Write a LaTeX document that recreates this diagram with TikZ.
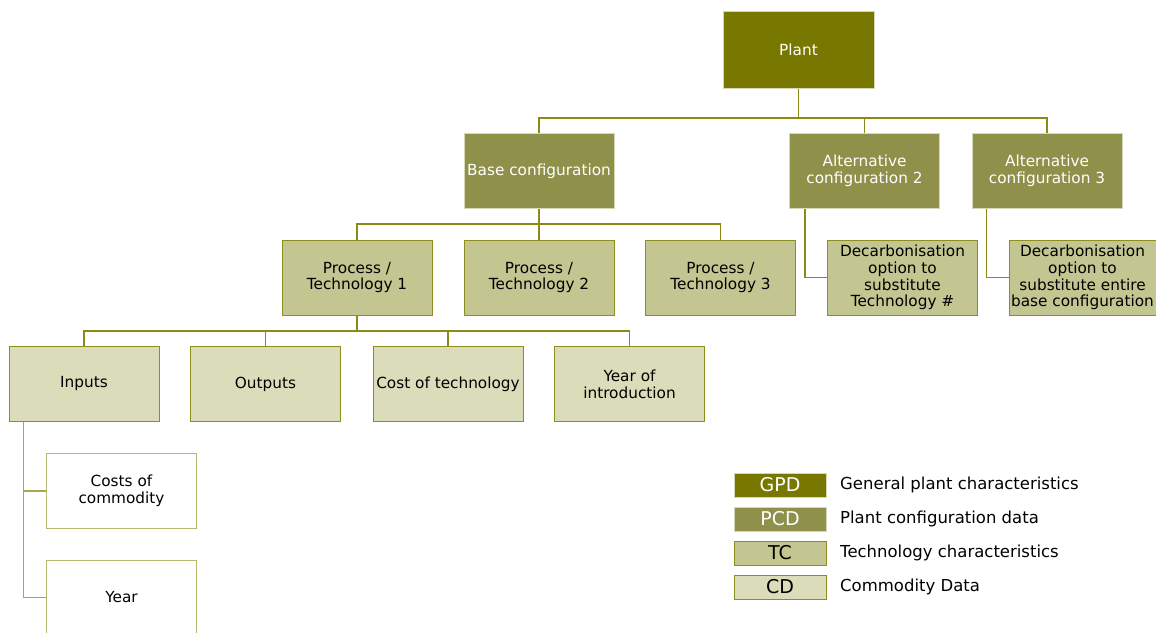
\documentclass[tikz,border=0pt]{standalone}
\usepackage{fontspec}
\setmainfont{DejaVu Sans}
\definecolor{gpd}{HTML}{787800}
\definecolor{pcd}{HTML}{8F914A}
\definecolor{tc}{HTML}{C3C691}
\definecolor{cd}{HTML}{DADCBA}
\definecolor{ln}{HTML}{8A8A14}
\definecolor{lightedge}{HTML}{D6D8B8}
\definecolor{olivedge}{HTML}{8E8E20}
\definecolor{whiteedge}{HTML}{B5B86E}
\begin{document}
\begin{tikzpicture}[x=1pt,y=-1pt,
  box/.style={rectangle, minimum width=150pt, minimum height=75pt, inner sep=0pt, align=center,
    font=\fontsize{15.3}{16.8}\selectfont, line width=1pt},
  gpdbox/.style={box, fill=gpd, draw=lightedge, text=white},
  pcdbox/.style={box, fill=pcd, draw=lightedge, text=white},
  tcbox/.style={box, fill=tc, draw=olivedge, text=black},
  cdbox/.style={box, fill=cd, draw=olivedge, text=black},
  whitebox/.style={box, fill=white, draw=whiteedge, text=black},
  conn/.style={draw=ln, line width=1.1pt},
  legbox/.style={rectangle, minimum width=92pt, minimum height=24pt, inner sep=0pt, line width=1pt,
    font=\fontsize{19}{20}\selectfont},
  legtext/.style={anchor=west, inner sep=0pt, font=\fontsize{16.5}{18}\selectfont}
]
\useasboundingbox (0,0) rectangle (1156,632);
\clip (0,0) rectangle (1156,632);
\fill[white] (0,0) rectangle (1156,632);

% nodes
\node[gpdbox, minimum width=151pt, minimum height=77pt] (plant) at (798.5,49.5) {Plant};
\node[pcdbox] (base) at (539,171) {Base configuration};
\node[pcdbox] (alt2) at (864.5,171) {Alternative\\configuration 2};
\node[pcdbox] (alt3) at (1047,171) {Alternative\\configuration 3};

\node[tcbox] (pt1) at (357,277.5) {Process /\\Technology 1};
\node[tcbox] (pt2) at (539,277.5) {Process /\\Technology 2};
\node[tcbox] (pt3) at (720.5,277.5) {Process /\\Technology 3};
\node[tcbox] (dec1) at (902.5,277.5) {Decarbonisation\\option to\\substitute\\Technology \#};
\node[tcbox, minimum width=147pt] (dec2) at (1082.5,277.5) {Decarbonisation\\option to\\substitute entire\\base configuration};

\node[cdbox] (inputs) at (84,384) {Inputs};
\node[cdbox] (outputs) at (265.5,384) {Outputs};
\node[cdbox] (cost) at (448,384) {Cost of technology};
\node[cdbox] (yoi) at (629.5,384) {Year of\\introduction};

\node[whitebox] (costs) at (121.5,491) {Costs of\\commodity};
\node[whitebox] (year) at (121.5,597.5) {Year};

% connectors
\coordinate (h1) at (0,118);
\coordinate (h2) at (0,224);
\coordinate (h3) at (0,331);
\draw[conn] (plant.south) -- (plant.south |- h1) -| (base.north);
\draw[conn] (plant.south |- h1) -| (alt2.north);
\draw[conn] (plant.south |- h1) -| (alt3.north);

\draw[conn] (base.south) -- (base.south |- h2) -| (pt1.north);
\draw[conn] (base.south |- h2) -- (pt2.north);
\draw[conn] (base.south |- h2) -| (pt3.north);

\path ([xshift=16pt]alt2.south west) coordinate (a2s);
\draw[conn] (a2s) |- (dec1.west);
\path ([xshift=15pt]alt3.south west) coordinate (a3s);
\draw[conn] (a3s) |- (dec2.west);

\draw[conn] (pt1.south) -- (pt1.south |- h3) -| (inputs.north);
\draw[conn] (pt1.south |- h3) -| (outputs.north);
\draw[conn] (pt1.south |- h3) -| (cost.north);
\draw[conn] (pt1.south |- h3) -| (yoi.north);

\path ([xshift=15pt]inputs.south west) coordinate (ins);
\draw[conn, draw=ln!75!white] (ins) |- (costs.west);
\draw[conn, draw=ln!75!white] (ins) |- (year.west);

% legend
\node[legbox, fill=gpd, draw=lightedge, text=white] (lg1) at (780,485) {GPD};
\node[legbox, fill=pcd, draw=lightedge, text=white] (lg2) at (780,519) {PCD};
\node[legbox, fill=tc, draw=olivedge, text=black] (lg3) at (780,553) {TC};
\node[legbox, fill=cd, draw=olivedge, text=black] (lg4) at (780,587) {CD};
\node[legtext] (lt1) at (840,485) {General plant characteristics};
\node[legtext] (lt2) at (840,519) {Plant configuration data};
\node[legtext] (lt3) at (840,553) {Technology characteristics};
\node[legtext] (lt4) at (840,587) {Commodity Data};
\end{tikzpicture}
\end{document}
